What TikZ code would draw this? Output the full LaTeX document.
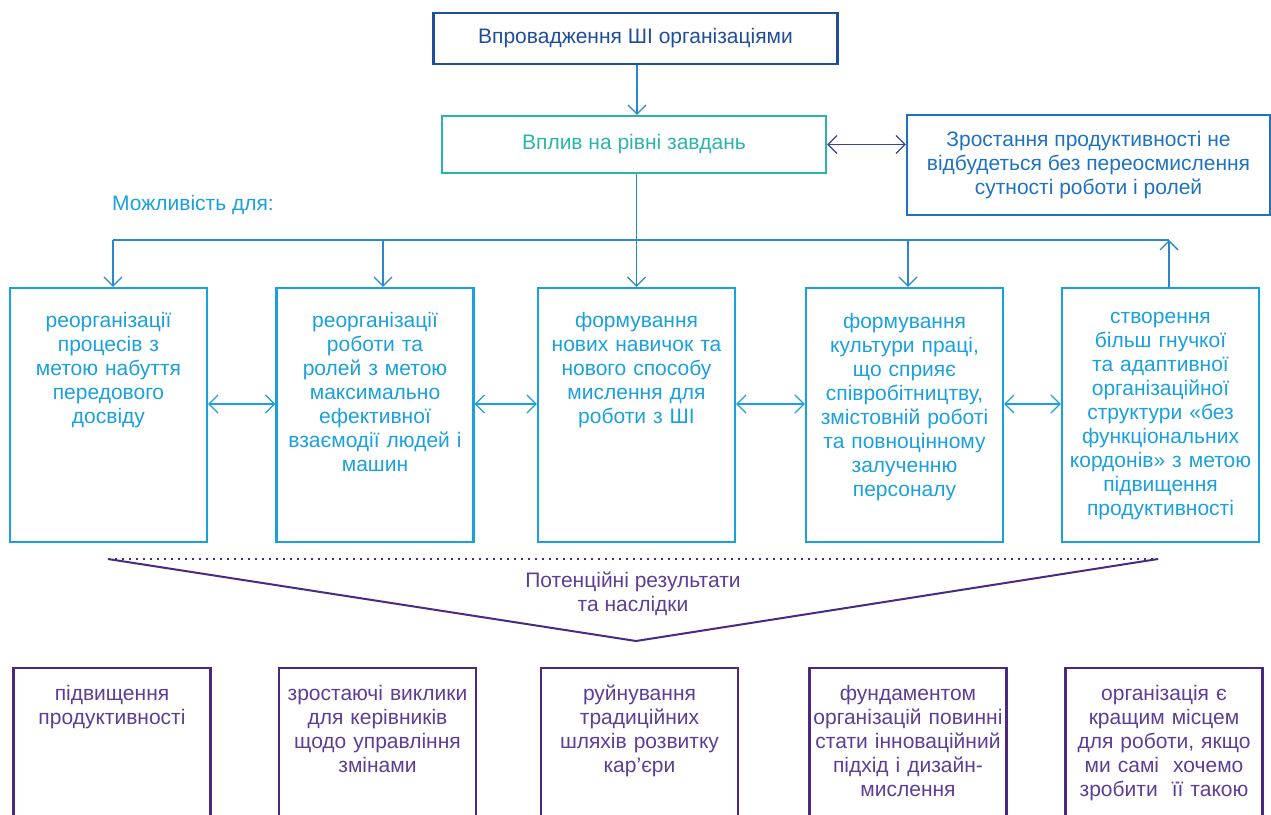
\documentclass[tikz,border=0pt]{standalone}
\usepackage{fontspec}
\setmainfont{Liberation Sans}
\usepackage{tikz}
\usetikzlibrary{arrows.meta}
\definecolor{impblue}{RGB}{31,78,154}
\definecolor{taskteal}{RGB}{43,181,168}
\definecolor{noteblue}{RGB}{31,114,192}
\definecolor{optblue}{RGB}{26,160,220}
\definecolor{linkblue}{RGB}{42,135,205}
\definecolor{linkindigo}{RGB}{60,66,160}
\definecolor{respurple}{RGB}{75,40,130}
\definecolor{restext}{RGB}{92,62,150}

\begin{document}
\begin{tikzpicture}[x=1pt, y=-1pt,
    >={Straight Barb[length=9pt,width=18pt]},
    conn/.style={line width=1.3pt},
    box/.style={draw, line width=2.2pt, inner sep=0pt, align=center,
        font=\fontsize{21}{24}\selectfont},
    optbox/.style={box, draw=optblue, minimum width=197pt, minimum height=254pt},
    resbox/.style={box, draw=respurple, minimum width=197pt, minimum height=220pt},
    opttext/.style={anchor=north, inner sep=0pt, align=center, text width=240pt,
        text=optblue, font=\fontsize{21}{24}\selectfont},
    restext/.style={opttext, text=restext}]

    \useasboundingbox (0,0) rectangle (1271,814);
    \clip (0,0) rectangle (1271,814);

    % top
    \node[box, draw=impblue, text=impblue, minimum width=404pt, minimum height=51pt] (impl) at (635.5,38.5) {Впровадження ШІ організаціями};
    \node[box, draw=taskteal, text=taskteal, minimum width=384pt, minimum height=57pt] (task) at (634,144.5) {Вплив на рівні завдань};
    \node[box, draw=noteblue, text=noteblue, minimum width=363pt, minimum height=100pt] (note) at (1088.5,165) {Зростання продуктивності не\\відбудеться без переосмислення\\сутності роботи і ролей};

    \draw[conn, linkblue, ->] ([xshift=3pt]task.north |- impl.south) -- ([xshift=3pt]task.north);
    \draw[conn, linkindigo, <->] (task.east) -- (task.east -| note.west);

    \node[anchor=west, inner sep=0pt, text=optblue, font=\fontsize{21}{24}\selectfont] (lbl) at (112,205) {Можливість для:};

    % options
    \node[optbox] (o1) at (108.5,415) {};
    \node[optbox] (o2) at (375,415) {};
    \node[optbox] (o3) at (636.5,415) {};
    \node[optbox] (o4) at (904.5,415) {};
    \node[optbox] (o5) at (1160.5,415) {};

    \node[opttext] (t1) at ([yshift=-25pt]o1.north) {реорганізації\\процесів з\\метою набуття\\передового\\досвіду};
    \node[opttext] (t2) at ([yshift=-25pt]o2.north) {реорганізації\\роботи та\\ролей з метою\\максимально\\ефективної\\взаємодії людей і\\машин};
    \node[opttext] (t3) at ([yshift=-25pt]o3.north) {формування\\нових навичок та\\нового способу\\мислення для\\роботи з ШІ};
    \node[opttext] (t4) at ([yshift=-26pt]o4.north) {формування\\культури праці,\\що сприяє\\співробітництву,\\змістовній роботі\\та повноцінному\\залученню\\персоналу};
    \node[opttext] (t5) at ([yshift=-25pt]o5.north) {створення\\більш гнучкої\\та адаптивної\\організаційної\\структури «без\\функціональних\\кордонів» з метою\\підвищення\\продуктивності};

    \coordinate (busL) at (113,240);
    \coordinate (busR) at (1169,240);
    \draw[conn, linkblue] (busL) -- (busR);
    \draw[conn, linkblue, ->] (task.south -| o3.north) -- (o3.north);
    \draw[conn, linkblue, ->] (busL) -- (busL |- o1.north);
    \draw[conn, linkblue, ->] ([xshift=8pt]o2.north |- busL) -- ([xshift=8pt]o2.north);
    \draw[conn, linkblue, ->] ([xshift=3.5pt]o4.north |- busL) -- ([xshift=3.5pt]o4.north);
    \draw[conn, linkblue, ->] (busR |- o5.north) -- (busR);

    \foreach \a/\b in {o1/o2, o2/o3, o3/o4, o4/o5}
        \draw[conn, optblue, <->] ([yshift=11pt]\a.east) -- ([yshift=11pt]\b.west);

    % results
    \coordinate (dl) at (108,559);
    \coordinate (dr) at (1158,559);
    \coordinate (apex) at (636,641);
    \draw[respurple, line width=2.4pt, dash pattern=on 2.4pt off 4.6pt] (dl) -- (dr);
    \draw[respurple, line width=2pt] (dl) -- (apex) -- (dr);
    \node[align=center, inner sep=0pt, text=restext, font=\fontsize{21}{24}\selectfont] (pot) at (633,594) {Потенційні результати\\та наслідки};

    \node[resbox] (r1) at (112,778) {};
    \node[resbox] (r2) at (377.5,778) {};
    \node[resbox] (r3) at (639.5,778) {};
    \node[resbox] (r4) at (908,778) {};
    \node[resbox] (r5) at (1164,778) {};

    \node[restext] (s1) at ([yshift=-18pt]r1.north) {підвищення\\продуктивності};
    \node[restext] (s2) at ([yshift=-18pt]r2.north) {зростаючі виклики\\для керівників\\щодо управління\\змінами};
    \node[restext] (s3) at ([yshift=-18pt]r3.north) {руйнування\\традиційних\\шляхів розвитку\\кар’єри};
    \node[restext] (s4) at ([yshift=-18pt]r4.north) {фундаментом\\організацій повинні\\стати інноваційний\\підхід і дизайн-\\мислення};
    \node[restext] (s5) at ([yshift=-18pt]r5.north) {організація є\\кращим місцем\\для роботи, якщо\\ми самі\ \ хочемо\\зробити\ \ її такою};
\end{tikzpicture}
\end{document}
